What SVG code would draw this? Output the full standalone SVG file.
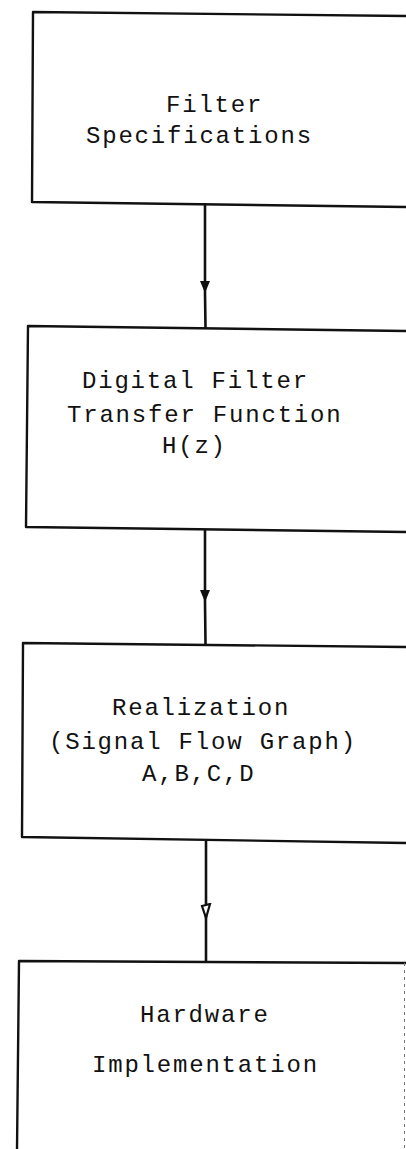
<svg xmlns="http://www.w3.org/2000/svg" width="406" height="1149" viewBox="0 0 406 1149">
<style>
.box{fill:none;stroke:#111;stroke-width:2.4;stroke-linejoin:round}
.edge{fill:none;stroke:#111;stroke-width:2.6}
.t{font-family:"Liberation Mono","Courier New",monospace;font-size:24px;letter-spacing:1.8px;fill:#111}
</style>
<defs>
<marker id="ah" viewBox="0 0 10 12" refX="5" refY="12" markerWidth="10" markerHeight="12" markerUnits="userSpaceOnUse" orient="0">
<path d="M0,0 L10,0 L5,12 Z" fill="#111"/>
</marker>
<marker id="ah2" viewBox="0 0 12 16" refX="6" refY="15" markerWidth="12" markerHeight="16" markerUnits="userSpaceOnUse" orient="0">
<path d="M2,3 L10,1 L6,15 Z" fill="#fff" stroke="#111" stroke-width="2.2"/>
</marker>
</defs>
<rect width="406" height="1149" fill="#fff"/>
<g id="connectors">
<path class="edge" d="M205,203 L205,293 L205.5,328" marker-mid="url(#ah)"/>
<path class="edge" d="M205,530 L205,602 L205.5,644" marker-mid="url(#ah)"/>
<path class="edge" d="M206,841 L206,918 L206,962" marker-mid="url(#ah2)"/>
</g>
<g id="node1">
<path class="box" d="M407,16 L33,12 L32,202 L407,207"/>
<text class="t" x="166" y="112">Filter</text>
<text class="t" x="86" y="143">Specifications</text>
</g>
<g id="node2">
<path class="box" d="M407,331 L28,326 L26,527 L407,532"/>
<text class="t" x="82" y="388">Digital Filter</text>
<text class="t" x="67" y="422">Transfer Function</text>
<text class="t" x="162" y="453">H(z)</text>
</g>
<g id="node3">
<path class="box" d="M407,647 L23,643 L22,837 L407,843"/>
<text class="t" x="112" y="715">Realization</text>
<text class="t" x="49" y="749">(Signal Flow Graph)</text>
<text class="t" x="142" y="781">A,B,C,D</text>
</g>
<g id="node4">
<path class="box" d="M407,963 L19,961 L17,1150"/>
<path d="M404.5,963 L404.5,1149" fill="none" stroke="#777" stroke-width="1" stroke-dasharray="3,4"/>
<text class="t" x="140" y="1022">Hardware</text>
<text class="t" x="92" y="1072">Implementation</text>
</g>
</svg>
